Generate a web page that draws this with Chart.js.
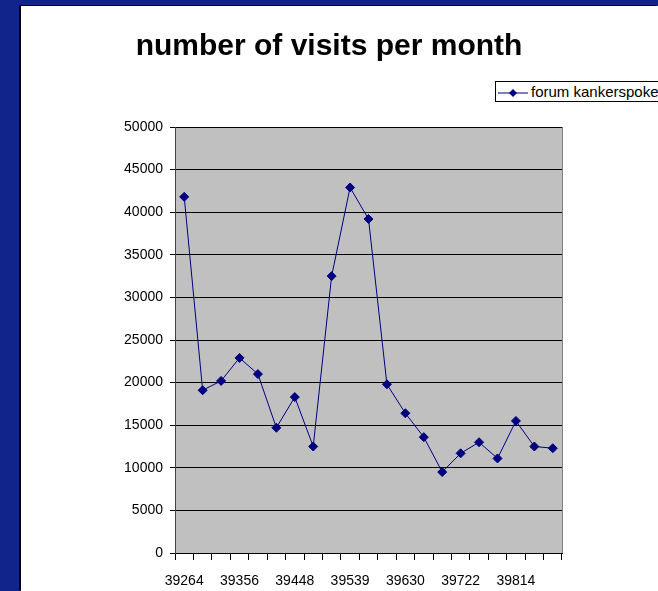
<!DOCTYPE html>
<html>
<head>
<meta charset="utf-8">
<script src="https://cdn.jsdelivr.net/npm/chart.js@4.4.0/dist/chart.umd.min.js"></script>
<style>
    html, body { margin: 0; padding: 0; width: 658px; height: 591px; overflow: hidden; background: #11248c; }
    #panel { position: absolute; left: 21px; top: 6px; right: 0; bottom: 0; background: #fff; box-shadow: -2px -1px 0 #000; }
    #chartBox { position: absolute; left: 0; top: 0; width: 658px; height: 591px; }
    #legend {
        position: absolute; left: 495px; top: 81px; height: 19px; padding: 0 30px 0 2px;
        border: 1px solid #000; background: #fff; white-space: nowrap;
        font: 15px 'Liberation Sans', Arial, sans-serif; line-height: 19px;
    }
    #legend svg { vertical-align: middle; margin-right: 3px; }
</style>
</head>
<body>
<div id="panel"></div>
<div id="chartBox"><canvas id="visitsChart" width="658" height="591"></canvas></div>
<div id="legend"></div>
<script>
const chartTitle = 'number of visits per month';
const seriesName = 'forum kankerspoken';

// months as excel date serials (jul 2007 .. mar 2009)
const months = [39264, 39295, 39326, 39356, 39387, 39417, 39448, 39479, 39508, 39539, 39569,
                39600, 39630, 39661, 39692, 39722, 39753, 39783, 39814, 39845, 39873];
const visits = [41800, 19100, 20200, 22900, 21000, 14700, 18300, 12500, 32500, 42900, 39200,
                19800, 16400, 13600, 9500, 11700, 13000, 11100, 15500, 12500, 12300];

const yMin = 0;
const yMax = 50000;
const yStep = 5000;
const labelEvery = 3;

const fontFamily = "'Liberation Sans', Arial, sans-serif";
const lineColor = '#000080';

const plotBackground = {
    id: 'plotBackground',
    beforeDraw(chart) {
        const a = chart.chartArea;
        const ctx = chart.ctx;
        ctx.save();
        ctx.fillStyle = '#c0c0c0';
        ctx.fillRect(a.left, a.top, a.right - a.left, a.bottom - a.top);
        ctx.restore();
    },
    afterDraw(chart) {
        const a = chart.chartArea;
        const ctx = chart.ctx;
        ctx.save();
        ctx.strokeStyle = '#808080';
        ctx.lineWidth = 1;
        ctx.beginPath();
        ctx.moveTo(a.right + 0.5, a.bottom);
        ctx.lineTo(a.right + 0.5, a.top);
        ctx.stroke();
        ctx.restore();
    }
};

function buildLegend() {
    const legend = document.getElementById('legend');
    legend.innerHTML =
        '<svg width="30" height="10" viewBox="0 0 30 10">' +
        '<line x1="0" y1="5" x2="30" y2="5" stroke="' + lineColor + '" stroke-width="1"/>' +
        '<polygon points="15,1 19,5 15,9 11,5" fill="' + lineColor + '"/>' +
        '</svg>' + seriesName;
}

function main() {
    buildLegend();

    new Chart(document.getElementById('visitsChart'), {
        type: 'line',
        data: {
            labels: months,
            datasets: [{
                label: seriesName,
                data: visits,
                borderColor: lineColor,
                backgroundColor: lineColor,
                borderWidth: 1,
                tension: 0,
                pointStyle: 'rectRot',
                pointRadius: 4.5,
                pointBorderWidth: 1,
                pointBorderColor: lineColor,
                pointBackgroundColor: lineColor
            }]
        },
        options: {
            responsive: false,
            animation: false,
            layout: { padding: 0 },
            plugins: {
                legend: { display: false },
                tooltip: { enabled: false },
                title: {
                    display: true,
                    text: chartTitle,
                    color: '#000',
                    font: { family: fontFamily, size: 30, weight: 'bold' },
                    padding: { top: 29, bottom: 62 }
                }
            },
            scales: {
                x: {
                    offset: true,
                    grid: { display: true, drawOnChartArea: false, offset: true, tickLength: 7, color: '#000' },
                    border: { color: '#000', width: 1 },
                    ticks: {
                        autoSkip: false,
                        maxRotation: 0,
                        padding: 13,
                        color: '#000',
                        font: { family: fontFamily, size: 14 },
                        callback: (v, i) => i % labelEvery == 0 ? String(months[i]) : ''
                    },
                    afterFit: (scale) => { scale.height = 38; }
                },
                y: {
                    min: yMin,
                    max: yMax,
                    grid: { color: '#000', tickLength: 5 },
                    border: { color: '#404040', width: 1 },
                    ticks: {
                        stepSize: yStep,
                        padding: 7,
                        color: '#000',
                        font: { family: fontFamily, size: 14 },
                        callback: (v) => String(v)
                    },
                    afterFit: (scale) => { scale.width = 175; }
                },
                // empty axis, only keeps the plot away from the right edge
                spacer: {
                    position: 'right',
                    grid: { display: false },
                    border: { display: false },
                    ticks: { display: false },
                    afterFit: (scale) => { scale.width = 96; }
                }
            }
        },
        plugins: [plotBackground]
    });
}

window.onload = main;
</script>
</body>
</html>
